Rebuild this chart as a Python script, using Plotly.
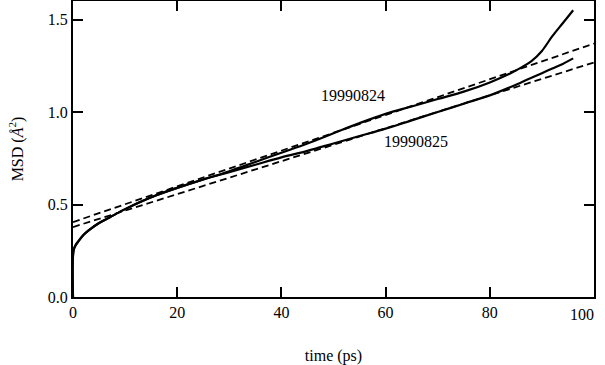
import plotly.graph_objects as go

time_ps = [0, 0.1, 0.5, 1, 2, 3, 5, 7, 10, 13, 16, 20, 25, 30, 35, 40, 45, 50, 55,
           60, 65, 70, 75, 80, 84, 86, 88, 90, 92, 94, 96]
msd_0824 = [0.0, 0.25, 0.28, 0.30, 0.335, 0.36, 0.40, 0.43, 0.475, 0.515, 0.55, 0.59,
            0.635, 0.68, 0.73, 0.78, 0.83, 0.885, 0.94, 0.99, 1.03, 1.07, 1.11,
            1.16, 1.21, 1.24, 1.275, 1.33, 1.41, 1.48, 1.55]
msd_0825 = [0.0, 0.25, 0.28, 0.30, 0.335, 0.36, 0.40, 0.43, 0.475, 0.515, 0.55, 0.59,
            0.635, 0.675, 0.715, 0.755, 0.79, 0.83, 0.87, 0.91, 0.955, 1.0, 1.045,
            1.09, 1.135, 1.16, 1.185, 1.21, 1.235, 1.26, 1.29]

# Linear fits (dashed)
fit_x = [0, 100]
fit_0824 = [0.405, 1.37]
fit_0825 = [0.378, 1.268]

labels = ["19990824", "19990825"]
label_x = [53.7, 65.8]
label_y = [1.09, 0.84]

x_ticks = [0, 20, 40, 60, 80]
y_ticks = [0.0, 0.5, 1.0, 1.5]

FONT = "Liberation Serif"
FS = 16

fig = go.Figure()
for y in (msd_0824, msd_0825):
    fig.add_trace(go.Scatter(x=time_ps, y=y, mode="lines", line_shape="spline",
                             line=dict(color="black", width=2.2), showlegend=False))
for y in (fit_0824, fit_0825):
    fig.add_trace(go.Scatter(x=fit_x, y=y, mode="lines",
                             line=dict(color="black", width=1.8, dash="7px,4px"),
                             showlegend=False))

for t, x, y in zip(labels, label_x, label_y):
    fig.add_annotation(x=x, y=y, text=t, showarrow=False,
                       font=dict(family=FONT, size=FS, color="black"))

# last x tick label, kept inside the page like the reference
fig.add_annotation(x=100, y=0, xref="x", yref="paper", text="100", showarrow=False,
                   xanchor="right", yanchor="top", xshift=2, yshift=-7,
                   font=dict(family=FONT, size=FS, color="black"))

axis_common = dict(showline=True, linecolor="black", linewidth=2, mirror="allticks",
                   ticks="inside", ticklen=10, tickwidth=2, tickcolor="black",
                   showgrid=False, zeroline=False, automargin=False,
                   tickfont=dict(family=FONT, size=FS, color="black"))

fig.update_layout(
    width=605, height=365,
    margin=dict(l=73, r=11, t=1, b=68),
    paper_bgcolor="white", plot_bgcolor="white",
    xaxis=dict(range=[0, 100], tickvals=x_ticks,
               title=dict(text="time (ps)", font=dict(family=FONT, size=FS, color="black"),
                          standoff=30),
               **axis_common),
    yaxis=dict(range=[0, 1.6], tickvals=y_ticks, tickformat=".1f",
               title=dict(text="MSD (<i>Å</i><sup>2</sup>)",
                          font=dict(family=FONT, size=FS, color="black"), standoff=20),
               **axis_common),
)

fig.write_html("out.html", config={"displayModeBar": False},
               post_script="document.body.style.margin='0';")
